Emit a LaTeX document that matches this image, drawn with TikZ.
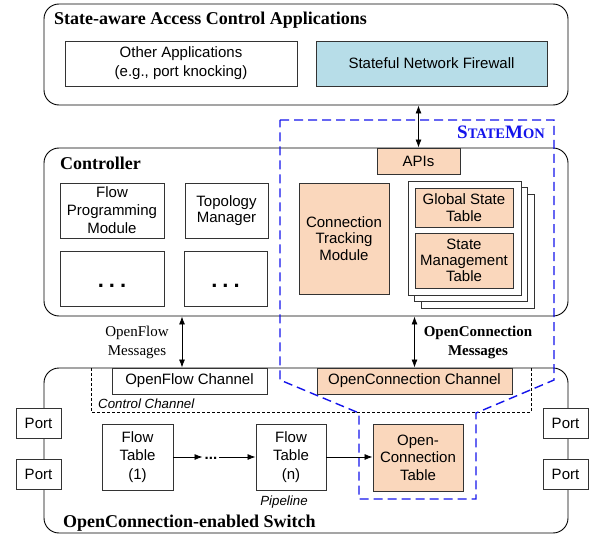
\documentclass[tikz,border=0pt]{standalone}
\usepackage{fontspec}
\setmainfont{Liberation Serif}
\setsansfont{Liberation Sans}
\usetikzlibrary{fit,arrows.meta}
\definecolor{peach}{RGB}{250,215,188}
\definecolor{fwblue}{RGB}{183,221,232}
\definecolor{smblue}{RGB}{20,20,235}
\tikzset{
 grp/.style={draw=black,line width=0.9pt,rounded corners=15pt,inner sep=0pt},
 blk/.style={draw=black!80,line width=0.9pt,fill=white,inner sep=0pt,align=center,font=\sffamily\fontsize{15}{17.5}\selectfont},
 pch/.style={blk,fill=peach},
 ttl/.style={font=\bfseries\fontsize{18}{20}\selectfont,anchor=base west,inner sep=0pt},
 arr/.style={-{Latex[length=8pt,width=6pt]},line width=0.8pt},
 darr/.style={{Latex[length=8pt,width=6pt]}-{Latex[length=8pt,width=6pt]},line width=0.8pt},
 ital/.style={font=\sffamily\itshape\fontsize{13.3}{15}\selectfont,inner sep=0pt},
 bigdots/.style={font=\sffamily\bfseries\fontsize{22}{22}\selectfont,inner sep=0pt},
 smalldots/.style={font=\sffamily\bfseries\fontsize{15}{15}\selectfont,inner sep=2pt},
 msg/.style={align=center,inner sep=0pt,font=\fontsize{15}{19}\selectfont},
 smline/.style={smblue,line width=1.4pt,dash pattern=on 9pt off 5pt},
 ccline/.style={black,line width=0.7pt,dash pattern=on 3pt off 2pt},
}
% \bx[style]{name}{x1}{y1}{x2}{y2}{text}
\newcommand\bx[7][blk]{\node[#1,minimum width={(#5)-(#3)},minimum height={(#6)-(#4)}] (#2) at ({((#3)+(#5))/2},{((#4)+(#6))/2}) {#7};}
\begin{document}
\begin{tikzpicture}[x=1pt,y=-1pt]
\useasboundingbox (0,0) rectangle (590,535);
% group boxes
\node[grp,fit={(44,4) (568,105)}] (apps) {};
\node[grp,fit={(44,148) (568,316)}] (ctrl) {};
\node[grp,fit={(44,368) (568,533)}] (sw) {};
\node[ttl] (tapps) at (54,25) {State-aware Access Control Applications};
\node[ttl] (tctrl) at (60,169) {Controller};
\node[ttl] (tsw) at (63,527) {OpenConnection-enabled Switch};
% applications
\bx[blk,font=\sffamily\fontsize{15}{19}\selectfont]{other}{65}{41}{297}{86}{Other Applications\\(e.g., port knocking)}
\bx[blk,fill=fwblue]{fw}{316}{41}{547}{86}{Stateful Network Firewall}
% controller modules
\bx[blk,font=\sffamily\fontsize{15}{18}\selectfont]{fpm}{60}{183}{164}{238}{Flow\\Programming\\Module}
\bx[blk,font=\sffamily\fontsize{15}{16.5}\selectfont]{topo}{185}{183}{268}{238}{Topology\\Manager}
\bx{dbox1}{60}{251}{164}{306}{}
\bx{dbox2}{184}{251}{267}{306}{}
\node[bigdots] (d1) at (112,286) {.\kern5pt.\kern5pt.};
\node[bigdots] (d2) at (225.5,286) {.\kern5pt.\kern5pt.};
\bx[pch]{apis}{377}{148}{460}{174}{APIs}
\bx[pch,font=\sffamily\fontsize{15}{16.5}\selectfont]{ctm}{299}{183}{389}{294}{Connection\\Tracking\\Module}
\bx{pg3}{421}{194}{534}{308}{}
\bx{pg2}{414.5}{187.5}{527.5}{301.5}{}
\bx{pg1}{408}{181}{521}{295}{}
\bx[pch,font=\sffamily\fontsize{15}{16.5}\selectfont]{gst}{415}{188}{513}{227}{Global State\\Table}
\bx[pch,font=\sffamily\fontsize{15}{16.2}\selectfont]{smt}{415}{233}{513}{288}{State\\Management\\Table}
% switch
\draw[ccline] (91,368) -- (91,412) -- (531,412) -- (531,368);
\node[ital,anchor=base west] (cclab) at (98,408) {Control Channel};
\bx{ofc}{112}{368}{267}{394}{OpenFlow Channel}
\bx[pch]{occ}{317}{368}{512}{394}{OpenConnection Channel}
\bx{pl1}{16}{408}{61}{438}{Port}
\bx{pl2}{16}{459}{61}{489}{Port}
\bx{pr1}{543}{408}{588}{438}{Port}
\bx{pr2}{543}{459}{588}{489}{Port}
\bx[blk,font=\sffamily\fontsize{15}{18.5}\selectfont]{ft1}{102}{424}{173}{490}{Flow\\Table\\(1)}
\bx[blk,font=\sffamily\fontsize{15}{18.5}\selectfont]{ftn}{256}{424}{326}{490}{Flow\\Table\\(n)}
\bx[pch,font=\sffamily\fontsize{15}{17.5}\selectfont]{oct}{373}{424}{463}{491}{Open-\\Connection\\Table}
\node[smalldots] (pd) at (211,458) {...};
\node[ital,anchor=base] (pipe) at (284,505) {Pipeline};
% StateMon region
\draw[smline] (280,120) -- (554,120) -- (554,380) -- (476,413) -- (476,499) -- (359,499) -- (359,413) -- (280,380) -- cycle;
\node[anchor=base east,inner sep=0pt,text=smblue,font=\bfseries] (smlab) at (545,139) {{\fontsize{19}{19}\selectfont S}{\fontsize{14.5}{14.5}\selectfont TATE}{\fontsize{19}{19}\selectfont M}{\fontsize{14.5}{14.5}\selectfont ON}};
% message labels
\node[msg] (ofm) at (137,342) {OpenFlow\\Messages};
\node[msg,font=\bfseries\fontsize{15}{19}\selectfont] (ocm) at (478,342) {OpenConnection\\Messages};
% arrows
\coordinate (ofx) at (182,0);
\draw[darr] (apis.north |- apps.south) -- (apis.north);
\draw[darr] (ofx |- ctrl.south) -- (ofx |- sw.north);
\draw[darr] (occ.north |- ctrl.south) -- (occ.north);
\draw[arr] (ft1.east) -- (ft1.east -| pd.west);
\draw[arr] (ftn.west -| pd.east) -- (ftn.west);
\draw[arr] (ftn.east) -- (ftn.east -| oct.west);
\end{tikzpicture}
\end{document}
